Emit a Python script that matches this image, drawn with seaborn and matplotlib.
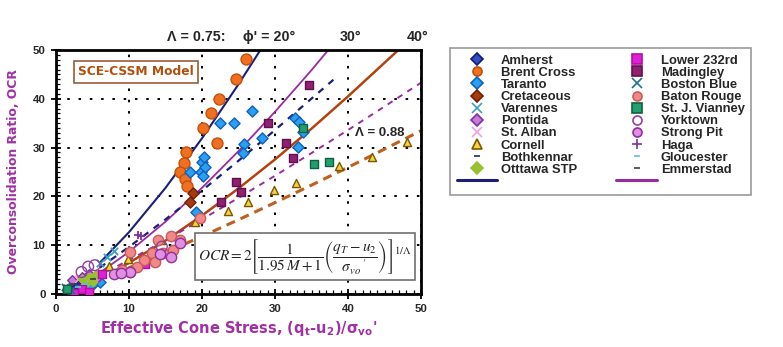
import matplotlib
matplotlib.use("Agg")
import matplotlib.pyplot as plt
from matplotlib.lines import Line2D
from matplotlib.patches import Rectangle
from matplotlib.ticker import MultipleLocator
import seaborn as sns
import pandas as pd

# ---------------- data ----------------
amherst_x = [1.5, 2.0, 2.5, 3.0, 1.8]
amherst_y = [1.0, 1.5, 2.2, 1.8, 0.8]
brent_x = [26.0, 24.6, 22.3, 21.2, 20.1, 22.1, 17.8, 17.5, 17.0, 17.7, 17.9]
brent_y = [48.1, 44.0, 40.0, 37.0, 34.1, 31.0, 29.0, 26.9, 24.9, 23.5, 22.1]
taranto_x = [26.8, 22.5, 24.4, 18.4, 20.0, 20.3, 19.8, 20.4, 20.2, 25.7, 25.6,
             28.2, 32.8, 33.3, 33.8, 33.1, 19.2, 5.0, 6.0, 4.5]
taranto_y = [37.4, 35.0, 35.0, 24.9, 27.0, 28.0, 25.0, 26.0, 24.2, 30.7, 28.8,
             32.0, 36.0, 35.3, 33.1, 30.2, 16.9, 2.0, 2.5, 1.5]
cretaceous_x = [18.7, 18.4]
cretaceous_y = [20.6, 18.9]
varennes_x = [7.9, 6.0, 7.0]
varennes_y = [8.9, 6.3, 7.5]
pontida_x = [2.2, 3.5, 4.5, 5.5]
pontida_y = [2.8, 3.5, 4.0, 3.0]
stalban_x = [3.0, 4.0, 5.0]
stalban_y = [3.0, 2.5, 3.5]
cornell_x = [48.1, 43.3, 38.7, 32.9, 29.8, 26.3, 23.6, 19.1, 14.4, 9.8, 7.3]
cornell_y = [31.1, 28.0, 26.2, 22.8, 21.3, 18.9, 17.1, 14.8, 11.1, 7.1, 5.8]
bothkennar_x = [3.0, 4.0, 5.0, 6.0]
bothkennar_y = [2.0, 3.0, 3.5, 4.0]
ottawa_x = [3.5, 4.5, 5.0, 5.5, 4.0]
ottawa_y = [3.0, 3.5, 2.5, 4.0, 2.0]
lower232_x = [12.2, 6.3, 3.5, 4.5, 2.5]
lower232_y = [6.1, 4.2, 1.0, 0.5, 0.3]
madingley_x = [34.6, 29.0, 31.5, 32.4, 24.7, 25.3, 22.6]
madingley_y = [42.8, 35.0, 30.9, 27.9, 23.0, 21.0, 18.9]
boston_x = [1.5, 2.0, 1.2]
boston_y = [1.2, 0.8, 1.5]
baton_x = [19.7, 15.7, 17.0, 14.0, 10.1, 13.1, 14.7, 12.0, 11.1, 10.1, 16.0, 13.5, 9.0]
baton_y = [15.5, 11.9, 11.1, 11.0, 8.7, 8.3, 8.3, 7.0, 5.6, 4.6, 9.0, 6.5, 5.0]
vianney_x = [35.3, 37.4, 33.8, 1.5]
vianney_y = [26.6, 27.0, 34.0, 1.0]
yorktown_x = [5.3, 4.4, 14.5, 3.5]
yorktown_y = [5.9, 5.6, 9.7, 4.5]
strongpit_x = [17.0, 15.7, 7.9, 10.1, 8.9, 14.2]
strongpit_y = [10.4, 7.6, 4.2, 4.6, 4.3, 8.2]
haga_x = [11.3, 11.6]
haga_y = [12.1, 11.8]
gloucester_x = [3.0, 4.0]
gloucester_y = [1.5, 2.0]
emmerstad_x = [2.5, 5.0]
emmerstad_y = [2.0, 3.0]

# model curves
q_20_075 = [6, 10, 15, 20, 25, 28.0]
ocr_20_075 = [6.4, 12.67, 21.75, 31.9, 42.98, 50.0]
q_30_075 = [6, 10, 15, 20, 25, 30, 35, 37.3]
ocr_30_075 = [4.37, 8.63, 14.82, 21.75, 29.28, 37.34, 45.87, 50.0]
q_40_075 = [8, 10, 15, 20, 25, 30, 35, 40, 45, 46.9]
ocr_40_075 = [4.74, 6.38, 10.95, 16.07, 21.64, 27.58, 33.88, 40.49, 47.38, 50.0]
q_20_088 = [6, 10, 15, 20, 25, 30, 35, 38]
ocr_20_088 = [5.40, 9.64, 15.29, 21.20, 27.31, 33.60, 40.04, 43.9]
q_30_088 = [7, 10, 15, 20, 25, 30, 35, 40, 45, 50]
ocr_30_088 = [4.64, 6.95, 11.02, 15.29, 19.70, 24.23, 28.88, 33.60, 38.42, 43.30]
q_40_088 = [8, 10, 15, 20, 25, 30, 35, 40, 45, 50]
ocr_40_088 = [4.17, 5.37, 8.52, 11.81, 15.22, 18.72, 22.31, 25.96, 29.69, 33.46]

# ---------------- styling ----------------
sns.set_style("white")
plt.rcParams["font.family"] = ["Liberation Sans", "DejaVu Sans"]
plt.rcParams["mathtext.fontset"] = "stix"

NAVY = "#1b1f7a"
PURPLE = "#9a2aa0"
BROWN = "#b4420f"
ORANGE_D = "#c0601e"
LABEL_C = "#a12fa6"

fig = plt.figure(figsize=(7.83, 3.47), dpi=100)
ax = fig.add_axes([56 / 783, 1 - 294 / 347, 365 / 783, 244 / 347])

# model lines
curves = [
    (q_20_075, ocr_20_075, NAVY, "-", 1.5),
    (q_30_075, ocr_30_075, PURPLE, "-", 1.3),
    (q_40_075, ocr_40_075, BROWN, "-", 1.8),
    (q_20_088, ocr_20_088, NAVY, (0, (3, 3)), 1.6),
    (q_30_088, ocr_30_088, PURPLE, (0, (3, 3)), 1.4),
    (q_40_088, ocr_40_088, ORANGE_D, (0, (3, 2)), 2.2),
]
for qx, oy, c, ls, lw in curves:
    sns.lineplot(x=qx, y=oy, color=c, linestyle=ls, linewidth=lw, ax=ax,
                 sort=False, estimator=None, zorder=2)

# site styles: name, x, y, marker, face, edge, size
sites = [
    ("Amherst", amherst_x, amherst_y, "D", "#3050c8", "#101c70", 22),
    ("Brent Cross", brent_x, brent_y, "o", "#f07020", "#c0500c", 62),
    ("Taranto", taranto_x, taranto_y, "D", "#2aa0f0", "#1060c0", 32),
    ("Cretaceous", cretaceous_x, cretaceous_y, "D", "#a53c10", "#702008", 32),
    ("Varennes", varennes_x, varennes_y, "x", "#3aa0c8", "#3aa0c8", 28),
    ("Pontida", pontida_x, pontida_y, "D", "#c77ad8", "#8030a0", 24),
    ("St. Alban", stalban_x, stalban_y, "x", "#f0a0e0", "#f0a0e0", 28),
    ("Cornell", cornell_x, cornell_y, "^", "#f8d040", "#7a5a00", 34),
    ("Bothkennar", bothkennar_x, bothkennar_y, "_", "#1b2a80", "#1b2a80", 16),
    ("Otttawa STP", ottawa_x, ottawa_y, "D", "#98c030", "#98c030", 18),
    ("Lower 232rd", lower232_x, lower232_y, "s", "#e020d8", "#b010a0", 30),
    ("Madingley", madingley_x, madingley_y, "s", "#902070", "#601050", 36),
    ("Boston Blue", boston_x, boston_y, "x", "#207090", "#207090", 28),
    ("Baton Rouge", baton_x, baton_y, "o", "#f08888", "#c85a5a", 55),
    ("St. J. Vianney", vianney_x, vianney_y, "s", "#20a070", "#106040", 30),
    ("Yorktown", yorktown_x, yorktown_y, "o", "none", "#9040a0", 60),
    ("Strong Pit", strongpit_x, strongpit_y, "o", "#e090e0", "#9030a0", 55),
    ("Haga", haga_x, haga_y, "+", "#8030a0", "#8030a0", 34),
    ("Gloucester", gloucester_x, gloucester_y, "_", "#60c0d0", "#60c0d0", 16),
    ("Emmerstad", emmerstad_x, emmerstad_y, "_", "#404040", "#404040", 16),
]

handles = []
for name, xs, ys, mk, fc, ec, s in sites:
    df = pd.DataFrame({"x": xs, "y": ys})
    if mk in ("x", "+", "_"):
        sns.scatterplot(data=df, x="x", y="y", marker=mk, color=ec, s=s,
                        linewidth=1.3, ax=ax, zorder=3, legend=False)
    else:
        sns.scatterplot(data=df, x="x", y="y", marker=mk, facecolor=fc,
                        edgecolor=ec, s=s, linewidth=1.0, ax=ax, zorder=3,
                        legend=False)
    handles.append(Line2D([], [], linestyle="none", marker=mk,
                          markerfacecolor=fc, markeredgecolor=ec,
                          color=ec, markersize=6.5 if mk != "_" else 5,
                          markeredgewidth=1.2, label=name))

# legend: 10 sites + a line per column
col1 = handles[:10] + [Line2D([], [], color=NAVY, lw=2.2, label=" ")]
col2 = handles[10:] + [Line2D([], [], color=PURPLE, lw=2.2, label=" ")]
leg = fig.legend(handles=col1 + col2, ncol=2, loc="upper left",
                 bbox_to_anchor=(450 / 783, 1 - 48 / 347),
                 prop={"family": "Liberation Sans", "weight": "bold", "size": 9.4},
                 frameon=True, fancybox=False, edgecolor="#808080",
                 labelspacing=0.0, handlelength=3.1, handletextpad=0.3,
                 columnspacing=3.0, borderpad=0.5, borderaxespad=0)
leg.get_frame().set_linewidth(1.2)

# axes
ax.set_xlim(0, 50)
ax.set_ylim(0, 50)
ax.set_xticks([0, 10, 20, 30, 40, 50])
ax.set_yticks([0, 10, 20, 30, 40, 50])
ax.xaxis.set_minor_locator(MultipleLocator(1))
ax.yaxis.set_minor_locator(MultipleLocator(1))
ax.tick_params(which="both", bottom=True, left=True, top=False, right=False)
ax.tick_params(which="major", direction="inout", length=7, width=1.3,
               labelsize=8.2, pad=4, color="black")
ax.tick_params(which="minor", direction="in", length=3, width=0.9,
               color="black")
for lab in ax.get_xticklabels() + ax.get_yticklabels():
    lab.set_fontweight("bold")
for sp in ax.spines.values():
    sp.set_linewidth(2.0)
    sp.set_color("black")
ax.grid(True, which="major", color="black", linestyle=(0, (1.3, 4.5)),
        linewidth=1.4)
ax.set_axisbelow(True)

ax.set_xlabel(r"Effective Cone Stress, (q$_\mathregular{t}$-u$_\mathregular{2}$)/$\mathregular{\sigma}_\mathregular{vo}$'",
              fontsize=10.5, fontweight="bold", color=LABEL_C,
              family="DejaVu Sans", labelpad=3)
ax.set_ylabel("Overconsolidation Ratio, OCR", fontsize=8.9,
              fontweight="bold", color=LABEL_C, family="DejaVu Sans",
              labelpad=9)

# annotations
fig.text(167 / 783, 1 - 37 / 347, "\u039b = 0.75:", fontsize=10.3,
         fontweight="bold", va="center", ha="left")
fig.text(243 / 783, 1 - 37 / 347, "\u03d5' = 20\u00b0", fontsize=10.3,
         fontweight="bold", va="center", ha="left")
fig.text(340 / 783, 1 - 37 / 347, "30\u00b0", fontsize=10.3,
         fontweight="bold", va="center", ha="left")
fig.text(407 / 783, 1 - 37 / 347, "40\u00b0", fontsize=10.3,
         fontweight="bold", va="center", ha="left")
ax.text(41.0, 33.0, "\u039b = 0.88", fontsize=9.5, fontweight="bold",
        va="center", ha="left", zorder=5)

ax.text(11.0, 45.5, "SCE-CSSM Model", fontsize=8.8, fontweight="bold",
        color="#b0500f", family="DejaVu Sans", ha="center", va="center",
        zorder=6,
        bbox=dict(boxstyle="square,pad=0.35", facecolor="white",
                  edgecolor="#9a5a3a", linewidth=1.2))

ax.add_patch(Rectangle((19.0, 2.9), 30.2, 9.6, facecolor="white",
                       edgecolor="#707070", linewidth=1.2, zorder=6))
ax.text(34.1, 7.7,
        r"$OCR = 2\left[\dfrac{1}{1.95\,M+1}\left(\dfrac{q_T-u_2}{\sigma_{vo}\,'}\right)\right]^{1/\Lambda}$",
        fontsize=11, ha="center", va="center", zorder=7)

fig.savefig("out.png", dpi=100, facecolor="white")
